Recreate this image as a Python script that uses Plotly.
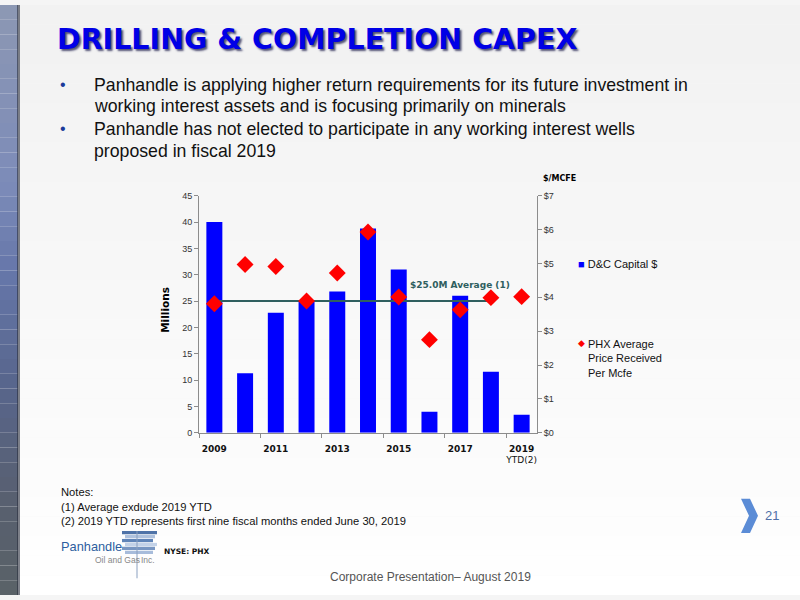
import plotly.graph_objects as go

# ---------------- data ----------------
years = [2009, 2010, 2011, 2012, 2013, 2014, 2015, 2016, 2017, 2018, 2019]
capex_millions = [40.0, 11.3, 22.8, 25.1, 26.8, 38.8, 31.0, 4.0, 26.0, 11.6, 3.4]
price_per_mcfe = [3.81, 4.97, 4.91, 3.89, 4.72, 5.93, 4.01, 2.75, 3.63, 3.99, 4.02]
avg_value = 25.0
avg_years = [2009, 2018]
tick_years = [2009, 2011, 2013, 2015, 2017, 2019]
tick_text = ["<b>2009</b>", "<b>2011</b>", "<b>2013</b>", "<b>2015</b>", "<b>2017</b>",
             "<b>2019</b><br>YTD(2)"]
left_ticks = list(range(0, 50, 5))
right_ticks = list(range(0, 8))
right_tick_text = ["$" + str(v) for v in right_ticks]

W, H = 800, 600
def px(x):
    return x / W
def py(y):
    return 1 - y / H

FONT = "Liberation Sans, Arial, sans-serif"
BOLD = "DejaVu Sans, Verdana, sans-serif"

fig = go.Figure()

fig.add_trace(go.Bar(
    x=years, y=capex_millions, name="D&C Capital $",
    marker=dict(color="#0000FF", line=dict(width=0)),
    width=0.52, yaxis="y", showlegend=False,
))
fig.add_trace(go.Scatter(
    x=avg_years, y=[avg_value] * len(avg_years), mode="lines",
    line=dict(color="#2F5F5F", width=2), showlegend=False, yaxis="y",
    hoverinfo="skip",
))
fig.add_trace(go.Scatter(
    x=years, y=price_per_mcfe, mode="markers",
    name="PHX Average Price Received Per Mcfe",
    marker=dict(symbol="diamond", size=13, color="#FF0000"),
    yaxis="y2", showlegend=False,
))

shapes = []
# slide background gradient (top light grey to white)
n = 30
for i in range(n):
    t = i / (n - 1)
    g = int(242 + (255 - 242) * t)
    shapes.append(dict(type="rect", xref="paper", yref="paper",
                       x0=0, x1=1, y0=1 - (i + 1) / n, y1=1 - i / n,
                       fillcolor=f"rgb({g},{g},{g})", line=dict(width=0), layer="below"))
# left vertical strip gradient
stops = [(0, (140, 152, 180)), (0.3, (125, 140, 185)), (0.45, (102, 119, 170)),
         (0.65, (88, 102, 140)), (0.85, (88, 96, 112)), (1.0, (90, 98, 104))]
m = 40
def interp(t):
    for (t0, c0), (t1, c1) in zip(stops[:-1], stops[1:]):
        if t0 <= t <= t1:
            f = (t - t0) / (t1 - t0) if t1 > t0 else 0
            return tuple(int(a + (b - a) * f) for a, b in zip(c0, c1))
    return stops[-1][1]
for i in range(m):
    c = interp(i / (m - 1))
    shapes.append(dict(type="rect", xref="paper", yref="paper",
                       x0=0, x1=px(18), y0=1 - (i + 1) / m, y1=1 - i / m,
                       fillcolor=f"rgb{c}", line=dict(width=0), layer="below"))
shapes.append(dict(type="rect", xref="paper", yref="paper", x0=px(17), x1=px(20),
                   y0=0, y1=1, fillcolor="rgba(40,45,60,0.6)", line=dict(width=0), layer="below"))
# chevron
shapes.append(dict(type="path", xref="paper", yref="paper",
                   path=f"M {px(741)},{py(502)} L {px(750)},{py(502)} L {px(758)},{py(519.5)} "
                        f"L {px(750)},{py(537)} L {px(741)},{py(537)} L {px(749)},{py(519.5)} Z",
                   fillcolor="#5B8CD6", line=dict(width=0)))
# logo stripes
stripe_cols = ["#4F73A8", "#AFC2DE", "#5F84B8", "#C3D2E8", "#7896C2", "#A7BCDB"]
for i, col in enumerate(stripe_cols):
    y0 = 535 + i * 4.0
    shapes.append(dict(type="rect", xref="paper", yref="paper",
                       x0=px(122 + (i % 2) * 3), x1=px(157 - (i % 3) * 2), y0=py(y0 + 3.3), y1=py(y0),
                       fillcolor=col, line=dict(width=0)))
shapes.append(dict(type="line", xref="paper", yref="paper", x0=px(137), x1=px(137),
                   y0=py(535), y1=py(583), line=dict(color="#8AA0C0", width=1)))

annotations = []
def txt_ann(text, x, y, size, color, family=FONT, xanchor="left", **kw):
    d = dict(text=text, x=px(x), y=py(y), xref="paper", yref="paper",
             xanchor=xanchor, yanchor="middle", showarrow=False,
             font=dict(family=family, size=size, color=color))
    d.update(kw)
    annotations.append(d)

annotations.append(dict(text="<b>DRILLING & COMPLETION CAPEX</b>", x=px(55), y=py(35),
                        xref="paper", yref="paper", xanchor="left", yanchor="middle",
                        showarrow=False,
                        font=dict(family=BOLD, size=28.5, color="#0000E6",
                                  shadow="2px 2px 2px #555577")))
bullets = [
    (84, "Panhandle is applying higher return requirements for its future investment in", True),
    (106, "working interest assets and is focusing primarily on minerals", False),
    (129, "Panhandle has not elected to participate in any working interest wells", True),
    (151, "proposed in fiscal 2019", False),
]
for yy, txt, dot in bullets:
    if dot:
        txt_ann("•", 58, yy - 3, 16, "#1A3A9A")
    txt_ann(txt, 92, yy - 3, 17.7, "#111111")
# axis labels
txt_ann("<b>Millions</b>", 165, 310, 10.5, "#000000", family=BOLD, xanchor="center", textangle=-90)
txt_ann("<b>$/MCFE</b>", 559, 176, 8, "#000000", family=BOLD, xanchor="center")
annotations.append(dict(text="<b>$25.0M Average (1)</b>", x=2017, y=28.1, xref="x", yref="y",
                        showarrow=False, font=dict(family=BOLD, size=9, color="#2F5F5F")))
# legend (text based)
txt_ann("<span style='color:#0000FF'>■</span> D&C Capital $", 576, 263, 11, "#111111")
txt_ann("◆", 576, 344, 9, "#FF0000")
annotations.append(dict(text="PHX Average<br>Price Received<br>Per Mcfe",
                        x=px(586), y=py(344) + 7 / H, xref="paper", yref="paper",
                        xanchor="left", yanchor="top", align="left", showarrow=False,
                        font=dict(family=FONT, size=11, color="#111111")))
# notes
notes = [(495, "Notes:"), (510, "(1) Average exdude 2019 YTD"),
         (525, "(2) 2019 YTD represents first nine fiscal months ended June 30, 2019")]
for yy, txt in notes:
    txt_ann(txt, 59, yy, 11.2, "#111111")
txt_ann("21", 772, 519, 13, "#4F6FA8", xanchor="center")
txt_ann("Corporate Presentation– August 2019", 430, 582, 12, "#555555", xanchor="center")
txt_ann("Panhandle", 59, 551, 12.8, "#2E5E9E")
txt_ann("Oil and Gas", 93, 564, 8.5, "#888888")
txt_ann("Inc.", 139, 564, 8.5, "#888888")
txt_ann("<b>NYSE: PHX</b>", 162, 556, 7.5, "#111111", family=BOLD)

fig.update_layout(
    width=W, height=H, margin=dict(l=0, r=0, t=0, b=0),
    paper_bgcolor="#F5F5F5", plot_bgcolor="rgba(0,0,0,0)",
    font=dict(family=FONT, size=10, color="#222222"),
    showlegend=False,
    xaxis=dict(domain=[px(199), px(537)], range=[2008.5, 2019.5],
               tickvals=tick_years, ticktext=tick_text, ticks="outside", ticklen=7,
               tickcolor="rgba(0,0,0,0)",
               showline=True, linecolor="#8C8C8C", linewidth=1, showgrid=False,
               zeroline=False, tickfont=dict(family=BOLD, size=9, color="#111111"),
               minor=dict(tickvals=[2008.5, 2010.5, 2012.5, 2014.5, 2016.5, 2018.5],
                          ticks="outside", ticklen=4, tickcolor="#8C8C8C", showgrid=False)),
    yaxis=dict(domain=[1 - 435 / H, 1 - 194 / H], range=[0, 45], tickvals=left_ticks,
               ticks="outside", ticklen=4, tickcolor="#8C8C8C",
               showline=True, linecolor="#8C8C8C", linewidth=1, showgrid=False, zeroline=False,
               tickfont=dict(family=FONT, size=9, color="#333333")),
    yaxis2=dict(overlaying="y", side="right", anchor="x", range=[0, 7], tickvals=right_ticks,
                ticktext=right_tick_text, ticks="outside", ticklen=4, tickcolor="#8C8C8C",
                showline=True, linecolor="#8C8C8C", linewidth=1, showgrid=False, zeroline=False,
                tickfont=dict(family=FONT, size=9, color="#333333")),
    shapes=shapes, annotations=annotations,
)

fig.write_html("out.html", config={"displayModeBar": False},
               post_script="document.body.style.margin='0';document.body.style.overflow='hidden';")
